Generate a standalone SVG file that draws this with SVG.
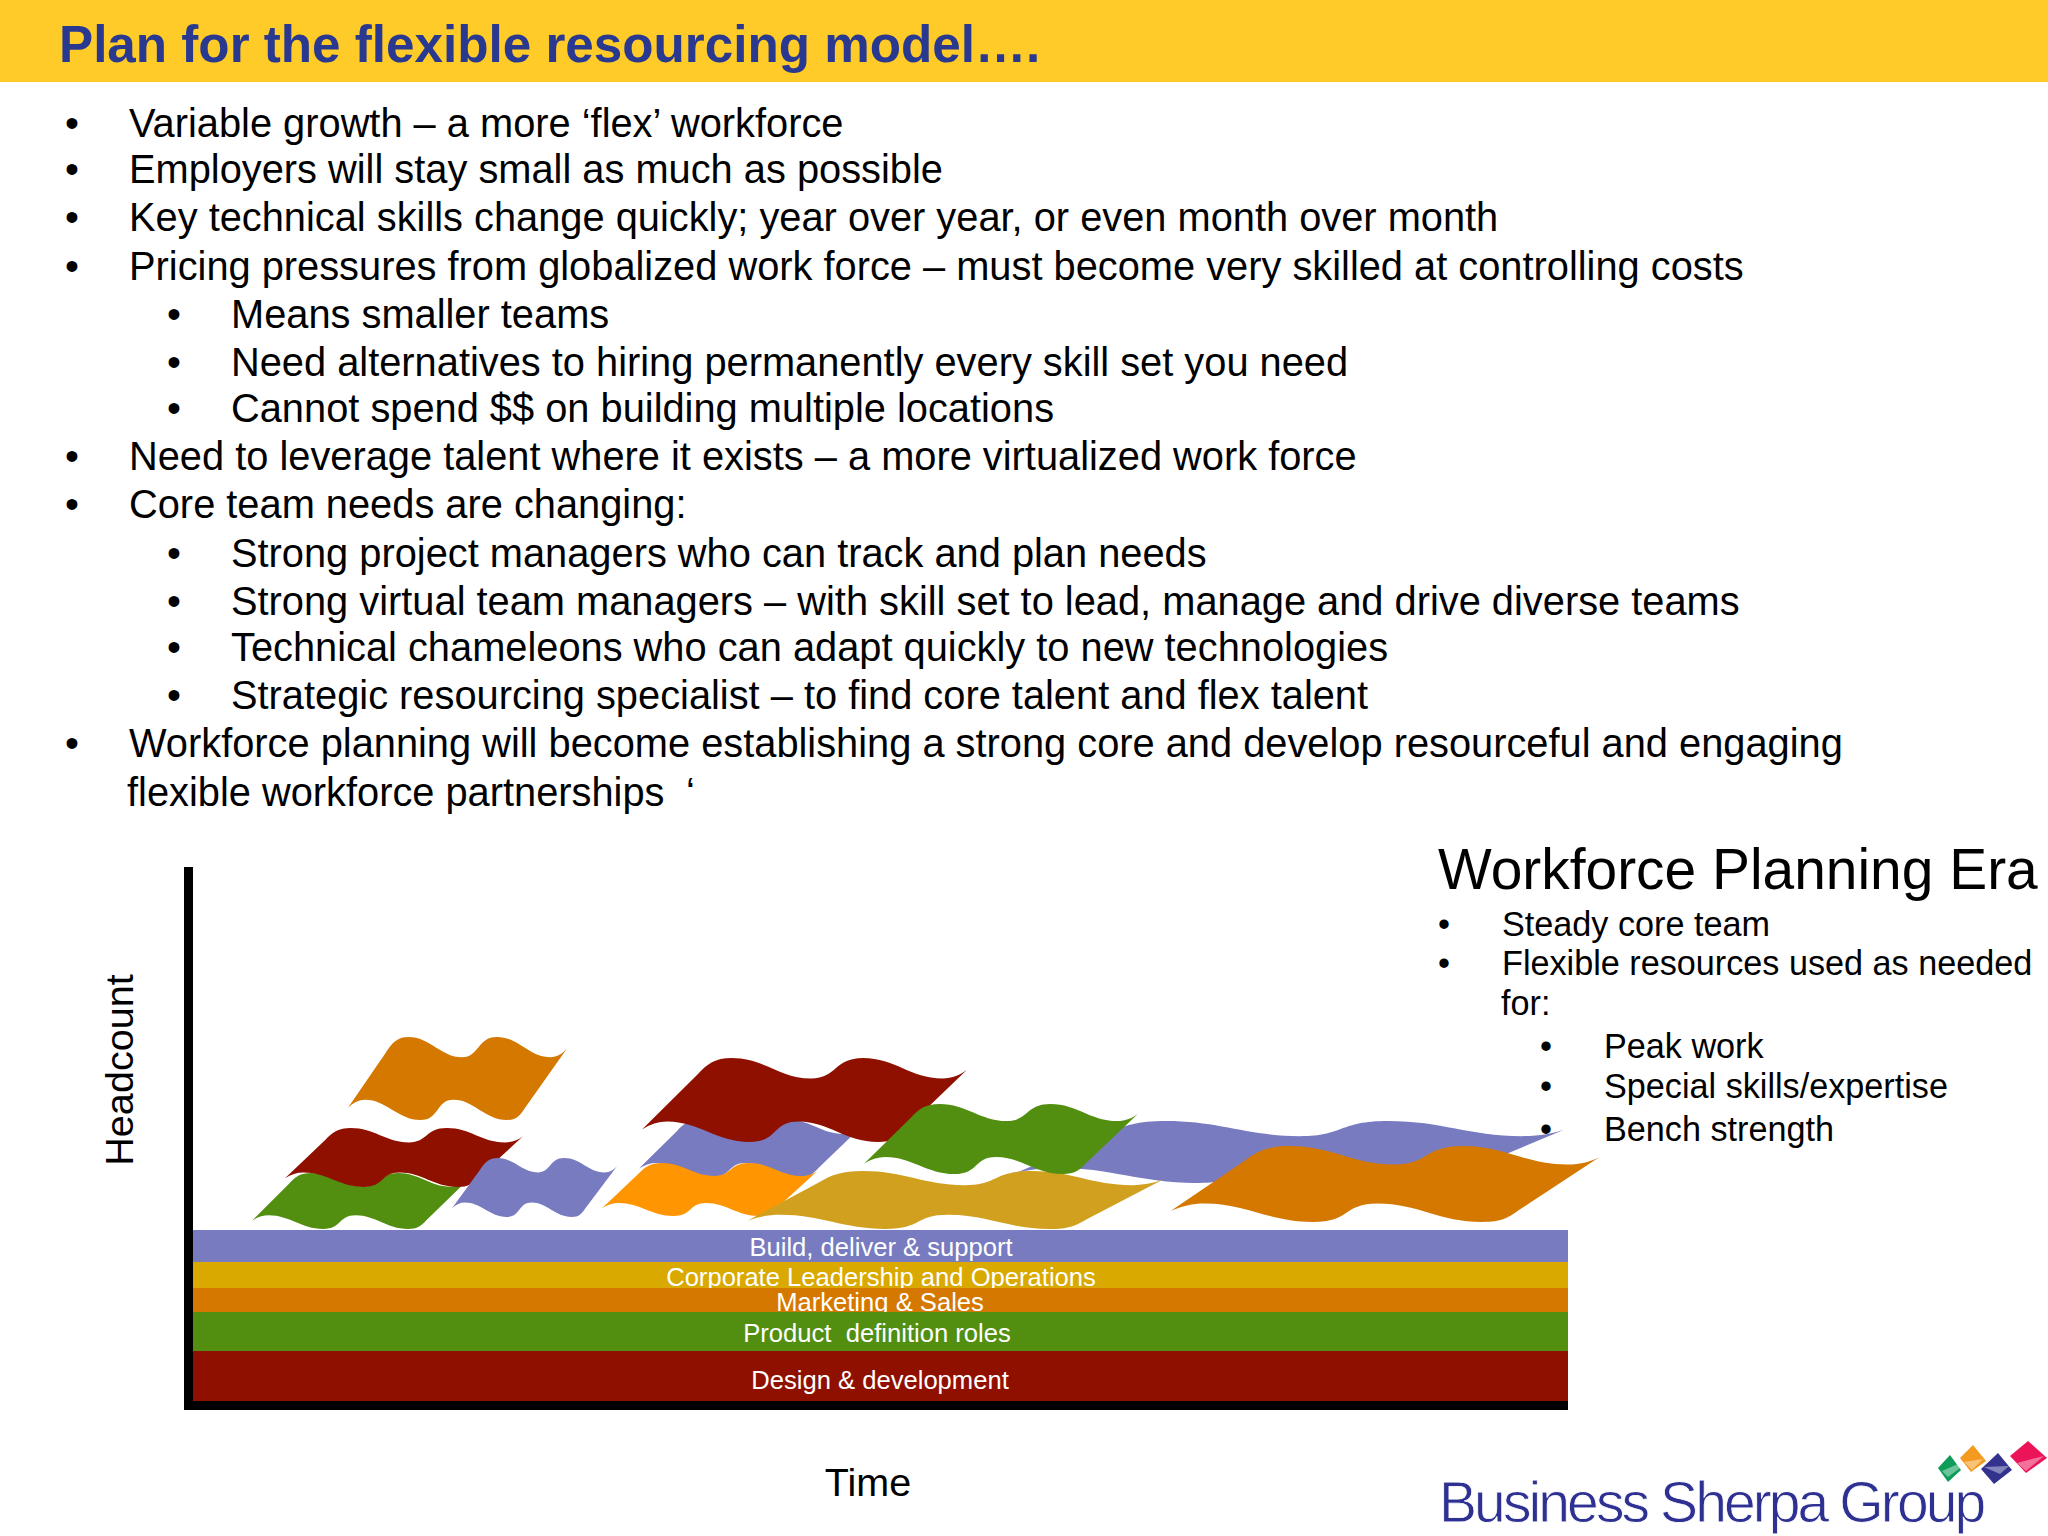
<svg xmlns="http://www.w3.org/2000/svg" width="2048" height="1536" viewBox="0 0 2048 1536">
<style>
text{font-family:"Liberation Sans",Arial,sans-serif;fill:#000}
.t{font-size:39.8px}
.s{font-size:34.2px}
.b{font-size:25.6px;fill:#fff;text-anchor:middle;white-space:pre}
.m{text-anchor:middle}
.blue{fill:#787BC0}.gold{fill:#D9A900}.or{fill:#D47800}.gr{fill:#528F10}.red{fill:#901000}
</style>
<defs>
<path id="wave" d="M0,852 L170,200 C200,70 225,0 276,0 C375,0 425,244 520,244 C600,244 590,0 680,0 C780,0 825,244 924,244 C955,244 980,200 1000,140 L812,840 C785,950 770,1000 726,1000 C625,1000 575,756 482,756 C400,756 420,1000 330,1000 C230,1000 175,756 78,756 C50,756 25,790 0,852 Z"/>
</defs>
<rect width="2048" height="1536" fill="#fff"/>
<g id="header">
<rect width="2048" height="82" fill="#FFCB29"/>
<text x="59" y="62" font-size="51.2" font-weight="bold" style="fill:#2A3990">Plan for the flexible resourcing model….</text>
</g>
<g id="bullets">
<text class="t" x="65" y="137">•</text><text class="t" x="129" y="137">Variable growth – a more ‘flex’ workforce</text>
<text class="t" x="65" y="183">•</text><text class="t" x="129" y="183">Employers will stay small as much as possible</text>
<text class="t" x="65" y="231">•</text><text class="t" x="129" y="231">Key technical skills change quickly; year over year, or even month over month</text>
<text class="t" x="65" y="279.500">•</text><text class="t" x="129" y="279.500">Pricing pressures from globalized work force – must become very skilled at controlling costs</text>
<text class="t" x="167" y="328">•</text><text class="t" x="231" y="328">Means smaller teams</text>
<text class="t" x="167" y="376">•</text><text class="t" x="231" y="376">Need alternatives to hiring permanently every skill set you need</text>
<text class="t" x="167" y="422">•</text><text class="t" x="231" y="422">Cannot spend $$ on building multiple locations</text>
<text class="t" x="65" y="470">•</text><text class="t" x="129" y="470">Need to leverage talent where it exists – a more virtualized work force</text>
<text class="t" x="65" y="518">•</text><text class="t" x="129" y="518">Core team needs are changing:</text>
<text class="t" x="167" y="567">•</text><text class="t" x="231" y="567">Strong project managers who can track and plan needs</text>
<text class="t" x="167" y="615">•</text><text class="t" x="231" y="615">Strong virtual team managers – with skill set to lead, manage and drive diverse teams</text>
<text class="t" x="167" y="661">•</text><text class="t" x="231" y="661">Technical chameleons who can adapt quickly to new technologies</text>
<text class="t" x="167" y="709">•</text><text class="t" x="231" y="709">Strategic resourcing specialist – to find core talent and flex talent</text>
<text class="t" x="65" y="757">•</text><text class="t" x="129" y="757">Workforce planning will become establishing a strong core and develop resourceful and engaging</text>
<text class="t" x="127" y="806">flexible workforce partnerships<tspan x="686">‘</tspan></text>
</g>
<g id="chart">
<rect x="184" y="867" width="9" height="543" fill="#000"/>
<rect x="184" y="1401" width="1384" height="9" fill="#000"/>
<g id="waves">
<use href="#wave" class="or" transform="translate(348,1037) scale(.219,.083)"/>
<use href="#wave" class="gr" transform="translate(252,1173) scale(.215,.056)"/>
<use href="#wave" class="red" transform="translate(285,1128) scale(.238,.059)"/>
<use href="#wave" class="blue" transform="translate(452,1158) scale(.165,.059)"/>
<use href="#wave" class="blue" transform="translate(639,1120) scale(.221,.057)"/>
<use href="#wave" style="fill:#FF9500" transform="translate(602,1163) scale(.216,.053)"/>
<use href="#wave" class="red" transform="translate(642,1058) scale(.325,.084)"/>
<use href="#wave" class="blue" transform="translate(1014,1121) scale(.55,.062)"/>
<use href="#wave" style="fill:#D1A01F" transform="translate(748,1171) scale(.416,.058)"/>
<use href="#wave" class="gr" transform="translate(864,1104) scale(.274,.07)"/>
<use href="#wave" class="or" transform="translate(1171,1146) scale(.429,.076)"/>
</g>
<g id="band-build"><rect class="blue" x="193" y="1230" width="1375" height="32"/><text class="b" x="881" y="1256">Build, deliver &amp; support</text></g>
<g id="band-corporate"><rect class="gold" x="193" y="1262" width="1375" height="26"/><text class="b" x="881" y="1286">Corporate Leadership and Operations</text></g>
<g id="band-marketing"><rect class="or" x="193" y="1288" width="1375" height="24"/><text class="b" x="880" y="1311">Marketing &amp; Sales</text></g>
<g id="band-product"><rect class="gr" x="193" y="1312" width="1375" height="40"/><text class="b" x="877" y="1342">Product  definition roles</text></g>
<g id="band-design"><rect class="red" x="193" y="1351" width="1375" height="50"/><text class="b" x="880" y="1389">Design &amp; development</text></g>
<text id="y-label" class="m" font-size="39.6" transform="translate(133,1070) rotate(-90)">Headcount</text>
<text id="x-label" class="m" font-size="39.5" x="868" y="1496">Time</text>
</g>
<g id="era">
<text x="1438" y="889" font-size="56.9">Workforce Planning Era</text>
<text class="s" x="1438" y="936">•</text><text class="s" x="1502" y="936">Steady core team</text>
<text class="s" x="1438" y="975">•</text><text class="s" x="1502" y="975">Flexible resources used as needed</text>
<text class="s" x="1501" y="1015">for:</text>
<text class="s" x="1540" y="1058">•</text><text class="s" x="1604" y="1058">Peak work</text>
<text class="s" x="1540" y="1098">•</text><text class="s" x="1604" y="1098">Special skills/expertise</text>
<text class="s" x="1540" y="1141">•</text><text class="s" x="1604" y="1141">Bench strength</text>
</g>
<g id="logo">
<text x="1439" y="1522" font-size="57" letter-spacing="-2.9" stroke="#fff" stroke-width=".8" style="fill:#2E3192">Business Sherpa Group</text>
<polygon points="1950,1455 1961,1470 1948,1482 1938,1468" fill="#0E9D58"/>
<polygon points="1973,1445 1986,1461 1971,1472 1960,1458" fill="#F39A1F"/>
<polygon points="1998,1453 2012,1470 1994,1484 1981,1469" fill="#33338F"/>
<polygon points="2028,1441 2047,1458 2026,1473 2010,1456" fill="#EC1459"/>
<path d="M1942,1471 L1958,1464 L1960,1468 L1948,1477Z M1964,1462 L1983,1459 L1972,1470Z M1984,1467 L2009,1466 L2000,1474Z M2017,1463 L2044,1456 L2026,1471Z" fill="#fff" opacity=".4"/>
</g>
</svg>
